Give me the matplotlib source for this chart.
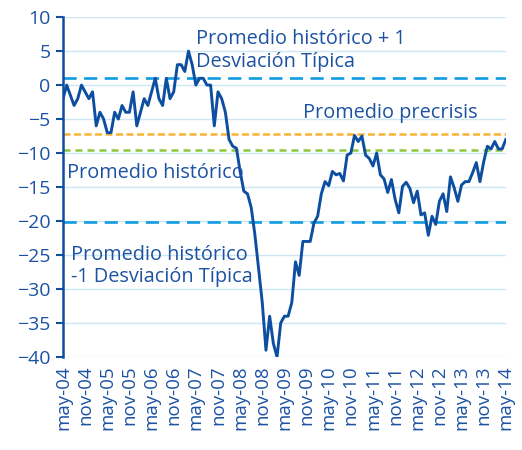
import matplotlib
matplotlib.use("Agg")
import matplotlib.pyplot as plt

# monthly index, may-04 .. may-14
values = [-2, 0, -1.5, -3, -2, 0, -1, -2, -1, -6,
          -4, -5, -7, -7, -4, -5, -3, -4, -4, -1,
          -6, -4, -2, -3, -1, 1, -2, -3, 1, -2,
          -1, 3, 3, 2, 5, 3, 0, 1, 1, 0,
          0, -6, -1, -2, -4, -8, -9, -9.3, -12.7, -15.6,
          -16, -18, -22, -27, -32, -39, -34, -38, -40, -35,
          -34, -34, -32, -26, -28, -23, -23, -23, -20.3, -19.3,
          -16, -14.2, -14.8, -12.7, -13.2, -13, -14.1, -10.3, -10, -7.4,
          -8.3, -7.5, -10.3, -10.8, -11.9, -10, -13.2, -13.8, -15.8, -13.9,
          -16.8, -18.8, -14.9, -14.3, -15.2, -17.3, -15.6, -19.1, -18.8, -22.1,
          -19.3, -20.5, -17.1, -16, -18.6, -13.5, -15.1, -17.1, -14.7, -14.2,
          -14.2, -12.9, -11.4, -14.2, -11.3, -9, -9.4, -8.3, -9.4, -9.4,
          -8]

tick_labels = ["may-04", "nov-04", "may-05", "nov-05", "may-06", "nov-06",
               "may-07", "nov-07", "may-08", "nov-08", "may-09", "nov-09",
               "may-10", "nov-10", "may-11", "nov-11", "may-12", "nov-12",
               "may-13", "nov-13", "may-14"]

hist_plus_sd = 1.0
precrisis = -7.2
hist_mean = -9.6
hist_minus_sd = -20.1

dark = "#0d4ea1"
text_col = "#1c52a2"
light_blue = "#129ce0"
orange = "#f9b233"
green = "#8dc63f"
grid_col = "#cde6f4"

plt.rcParams["font.family"] = ["Open Sans", "DejaVu Sans"]

fig = plt.figure(figsize=(5.22, 4.5), dpi=100)
ax = fig.add_axes([0.1207, 0.2067, 0.8483, 0.7553])

months = list(range(len(values)))

ax.axhline(hist_plus_sd, color=light_blue, lw=1.9, dashes=(5.0, 2.8), zorder=2)
ax.axhline(hist_minus_sd, color=light_blue, lw=1.9, dashes=(5.0, 2.8), zorder=2)
ax.axhline(precrisis, color=orange, lw=1.8, dashes=(2.8, 1.4), zorder=2)
ax.axhline(hist_mean, color=green, lw=1.8, dashes=(2.8, 2.0), zorder=2)
ax.plot(months, values, color=dark, lw=2.1, zorder=3)

ax.set_xlim(0, 120)
ax.set_ylim(-40, 10)
ax.set_yticks(range(-40, 11, 5))
ax.set_xticks(range(0, 121, 6))
ax.set_xticklabels(tick_labels, rotation=90)

ax.yaxis.grid(True, color=grid_col, lw=1.0)
ax.set_axisbelow(True)
for s in ["top", "right", "bottom"]:
    ax.spines[s].set_visible(False)
ax.spines["left"].set_color(dark)
ax.spines["left"].set_linewidth(1.8)

ax.tick_params(axis="y", colors=dark, labelcolor=text_col, length=5, width=1.5,
               labelsize=14, pad=4)
ax.tick_params(axis="x", length=0, labelcolor=text_col, labelsize=13.5, pad=6)

fs = 14.3
ax.text(36, 5.1, "Promedio histórico + 1\nDesviación Típica", color=text_col,
        fontsize=fs, va="center", ha="left", linespacing=1.15)
ax.text(65, -4.1, "Promedio precrisis", color=text_col, fontsize=fs,
        va="center", ha="left")
ax.text(1.1, -12.9, "Promedio histórico", color=text_col, fontsize=fs,
        va="center", ha="left")
ax.text(2.2, -26.6, "Promedio histórico\n-1 Desviación Típica", color=text_col,
        fontsize=fs, va="center", ha="left", linespacing=1.15)

fig.savefig("out.png", dpi=100)
